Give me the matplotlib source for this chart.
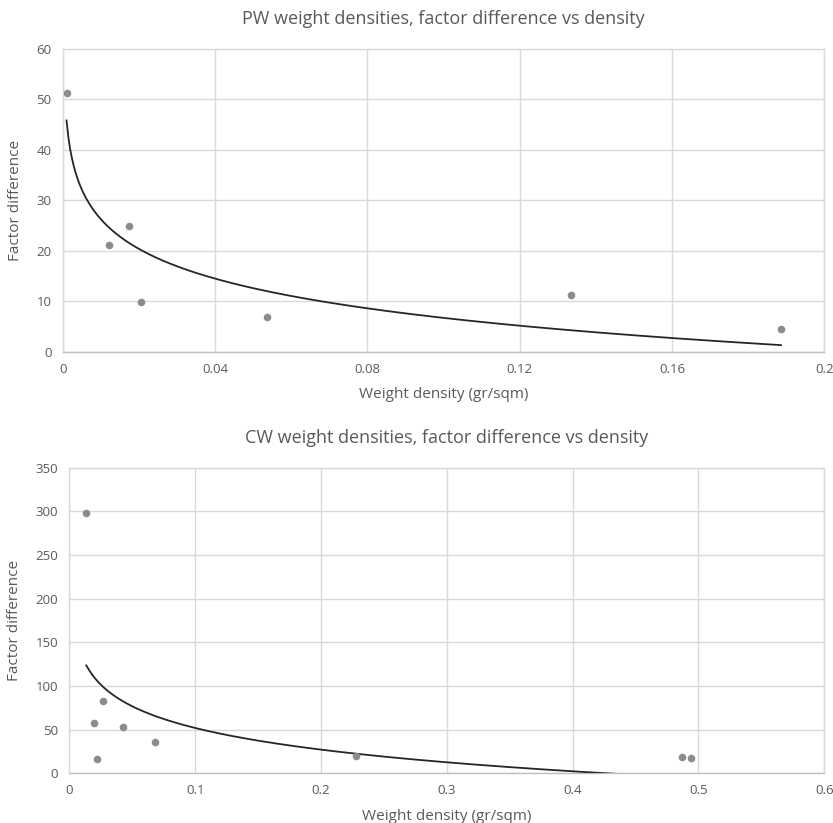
import numpy as np
import matplotlib
matplotlib.use('Agg')
import matplotlib.pyplot as plt
from matplotlib.ticker import FuncFormatter

# PW weight densities (gr/sqm) and factor difference
pw_density = [0.001, 0.0121, 0.0175, 0.0205, 0.0537, 0.1334, 0.1886]
pw_factor = [51.3, 21.2, 24.9, 9.9, 6.9, 11.2, 4.6]

# CW weight densities (gr/sqm) and factor difference
cw_density = [0.0135, 0.0199, 0.0218, 0.0265, 0.0427, 0.0684, 0.2279, 0.4868, 0.4937]
cw_factor = [298, 57.9, 16.8, 82.4, 53, 36.2, 19.8, 18.3, 17.2]

pw_xticks = [0, 0.04, 0.08, 0.12, 0.16, 0.2]
pw_yticks = [0, 10, 20, 30, 40, 50, 60]
cw_xticks = [0, 0.1, 0.2, 0.3, 0.4, 0.5, 0.6]
cw_yticks = [0, 50, 100, 150, 200, 250, 300, 350]

plt.rcParams['font.family'] = ['Open Sans', 'DejaVu Sans']
text_col = '#595959'
grid_col = '#d9d9d9'
dot_col = '#8c8c8c'

fig = plt.figure(figsize=(8.33, 8.23), dpi=100)
ax1 = fig.add_axes([0.0753, 0.5723, 0.9143, 0.3682])
ax2 = fig.add_axes([0.0832, 0.0604, 0.9064, 0.3713])


def log_trend(ax, x, y):
    # Excel style logarithmic trendline: y = a*ln(x) + b
    x = np.asarray(x)
    a, b = np.polyfit(np.log(x), np.asarray(y), 1)
    xs = np.linspace(x.min(), x.max(), 400)
    ax.plot(xs, a * np.log(xs) + b, color='#262626', lw=1.3, zorder=3)


def style(ax, title, xticks, yticks):
    ax.set_xlim(xticks[0], xticks[-1])
    ax.set_ylim(yticks[0], yticks[-1])
    ax.set_xticks(xticks)
    ax.set_yticks(yticks)
    ax.xaxis.set_major_formatter(FuncFormatter(lambda v, p: '%g' % v))
    ax.grid(True, color=grid_col, lw=1.0)
    ax.set_axisbelow(True)
    for s in ax.spines.values():
        s.set_color(grid_col)
        s.set_linewidth(1.0)
    ax.spines['bottom'].set_color('#bfbfbf')
    ax.tick_params(length=0, colors=text_col, labelsize=9.5, pad=8)
    ax.set_title(title, color=text_col, fontsize=13, pad=18)
    ax.set_xlabel('Weight density (gr/sqm)', color=text_col, fontsize=11, labelpad=8)
    ax.set_ylabel('Factor difference', color=text_col, fontsize=11, labelpad=10)


ax1.scatter(pw_density, pw_factor, s=30, color=dot_col, zorder=4, linewidths=0)
log_trend(ax1, pw_density, pw_factor)
style(ax1, 'PW weight densities, factor difference vs density', pw_xticks, pw_yticks)

ax2.scatter(cw_density, cw_factor, s=30, color=dot_col, zorder=4, linewidths=0)
log_trend(ax2, cw_density, cw_factor)
style(ax2, 'CW weight densities, factor difference vs density', cw_xticks, cw_yticks)

fig.savefig('out.png', dpi=100, facecolor='white')
